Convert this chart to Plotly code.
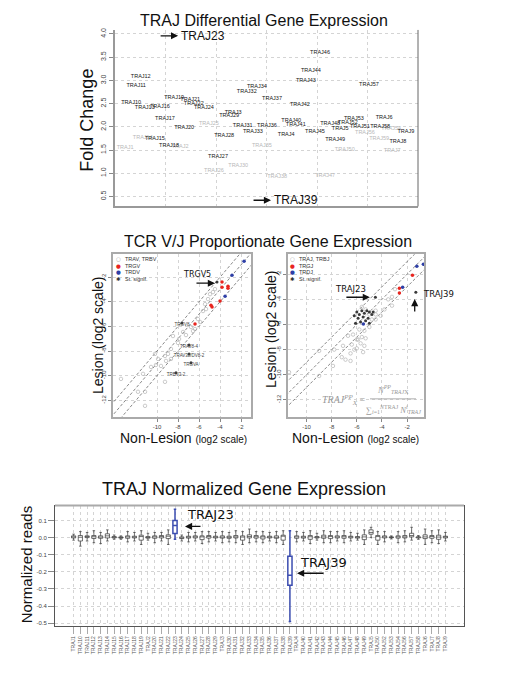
import plotly.graph_objects as go

W, H = 520, 680
def PX(x): return x / W
def PY(y): return 1 - y / H

FONT = "Liberation Sans, Arial, sans-serif"
DJV = "DejaVu Sans, sans-serif"

# ---------------- Top chart: TRAJ differential expression ----------------
top_sig_names = ["TRAJ46", "TRAJ44", "TRAJ43", "TRAJ57", "TRAJ12", "TRAJ11", "TRAJ34", "TRAJ32",
                 "TRAJ37", "TRAJ42", "TRAJ19", "TRAJ21", "TRAJ10", "TRAJ22", "TRAJ24", "TRAJ13",
                 "TRAJ16", "TRAJ3", "TRAJ29", "TRAJ17", "TRAJ20", "TRAJ31", "TRAJ36", "TRAJ33",
                 "TRAJ40", "TRAJ41", "TRAJ4", "TRAJ28", "TRAJ45", "TRAJ48", "TRAJ53", "TRAJ52",
                 "TRAJ5", "TRAJ51", "TRAJ58", "TRAJ6", "TRAJ9", "TRAJ15", "TRAJ18", "TRAJ49",
                 "TRAJ8", "TRAJ27"]
top_sig_x = [40.6, 38.8, 37.8, 50.3, 5.1, 4.2, 28.1, 26.1,
             31.1, 36.6, 11.7, 14.9, 3.2, 15.6, 17.6, 5.9,
             8.9, 23.4, 22.6, 9.9, 13.7, 25.3, 30.1, 27.3,
             34.9, 35.8, 33.9, 21.6, 39.6, 42.6, 47.3, 46.1,
             44.6, 48.5, 52.5, 53.3, 57.6, 7.9, 10.7, 43.6,
             56.0, 20.4]
top_sig_fc = [3.59, 3.21, 2.99, 2.91, 3.08, 2.88, 2.86, 2.76,
              2.61, 2.48, 2.63, 2.58, 2.52, 2.50, 2.41, 2.41,
              2.43, 2.30, 2.24, 2.18, 1.98, 2.03, 2.03, 1.90,
              2.13, 2.05, 1.83, 1.81, 1.90, 2.07, 2.18, 2.09,
              1.96, 2.00, 2.00, 2.20, 1.90, 1.75, 1.60, 1.73,
              1.68, 1.36]
top_ns_names = ["TRAJ25", "TRAJ14", "TRAJ1", "TRAJ2", "TRAJ35", "TRAJ56", "TRAJ54",
                "TRAJ59", "TRAJ50", "TRAJ7", "TRAJ47", "TRAJ30", "TRAJ26", "TRAJ38"]
top_ns_x = [18.6, 5.5, 2.0, 12.9, 29.1, 49.5, 54.7, 52.3, 45.5, 54.9, 41.6, 24.4, 19.6, 32.1]
top_ns_fc = [2.07, 1.77, 1.55, 1.58, 1.60, 1.88, 1.96, 1.75, 1.51, 1.49, 0.95, 1.17, 1.06, 0.93]
top_out_names = ["TRAJ23", "TRAJ39"]
top_out_x = [12.5, 30.9]
top_out_fc = [3.96, 0.42]

# ---------------- Middle left: V genes ----------------
v_other_x = [-10.10, -9.62, -9.24, -8.48, -7.52, -6.76, -6.10, -5.62, -5.43, -5.14, -4.95,
             -5.90, -6.38, -7.24, -8.00, -8.67, -8.95, -9.90, -10.57, -11.33, -13.43, -4.67,
             -4.48, -5.33, -6.57, -7.90, -9.14, -11.81, -11.14, -9.24, -11.14, -10.19, -8.67]
v_other_y = [-9.13, -9.21, -8.40, -6.78, -6.45, -6.05, -5.40, -4.75, -4.19, -3.78, -3.38,
             -5.64, -6.21, -6.70, -7.34, -7.83, -8.23, -8.64, -9.29, -9.85, -10.26, -3.21,
             -2.97, -4.59, -6.37, -7.02, -8.80, -11.31, -11.31, -10.5, -12.45, -8.23, -8.64]
v_trgv_x = [-3.81, -3.24, -3.81, -3.24, -4.00, -4.86, -4.76, -6.38]
v_trgv_y = [-2.40, -2.73, -2.81, -2.89, -3.94, -4.27, -4.43, -5.81]
v_trdv_x = [-1.71, -2.86, -3.52]
v_trdv_y = [-0.70, -1.84, -3.54]
v_sig_names = ["", "TRGV8", "TRAV8-4", "TRAV38/DV8-2", "TRGVA", "TRBV3-2"]
v_sig_x = [-4.29, -7.62, -6.95, -6.95, -6.76, -8.19]
v_sig_y = [-2.40, -5.72, -7.51, -8.23, -8.96, -9.77]

# ---------------- Middle right: J genes ----------------
j_other_x = [-2.96, -3.2, -3.5, -3.8, -4.1, -4.5, -4.8, -5.0, -5.4, -5.6, -5.8, -6.0, -6.3,
             -6.4, -6.7, -7.1, -7.8, -9.0, -11.4, -9.0, -5.6, -5.3, -5.0, -4.5, -5.9, -5.7,
             -5.4, -6.2, -6.5, -6.9, -6.5, -7.2, -5.5, -5.3, -6.0, -3.2, -4.5, -7.9]
j_other_y = [-3.19, -4.5, -4.0, -4.8, -5.3, -4.9, -5.6, -6.2, -6.5, -7.0, -6.4, -7.2, -6.8,
             -7.6, -6.9, -7.7, -8.0, -8.1, -9.8, -10.1, -4.6, -4.8, -5.2, -5.6, -7.2, -7.5,
             -7.7, -8.0, -8.3, -8.8, -8.9, -8.6, -8.2, -7.1, -7.9, -3.8, -5.2, -9.3]
j_trgj_x = [-0.78, -1.57, -2.61, -2.61]
j_trgj_y = [-0.25, -2.08, -3.11, -3.50]
j_trdj_x = [-0.70, -1.22, -2.35, -5.48]
j_trdj_y = [-1.21, -1.37, -3.03, -5.97]
j_sig_x = [-4.52, -1.30, -6.0, -5.8, -5.6, -5.4, -5.2, -5.0, -4.8, -5.9, -5.5, -5.1,
           -6.2, -5.7, -5.3, -6.1, -4.7, -5.0]
j_sig_y = [-3.83, -3.43, -5.0, -5.2, -4.9, -5.1, -4.9, -5.0, -5.2, -5.5, -5.4, -5.5,
           -5.3, -5.8, -5.7, -5.9, -5.0, -5.9]

# ---------------- Bottom: normalized expression boxes ----------------
box_genes = ["TRAJ1", "TRAJ10", "TRAJ11", "TRAJ12", "TRAJ13", "TRAJ14", "TRAJ15", "TRAJ16",
             "TRAJ17", "TRAJ18", "TRAJ19", "TRAJ2", "TRAJ20", "TRAJ21", "TRAJ22", "TRAJ23",
             "TRAJ24", "TRAJ25", "TRAJ26", "TRAJ27", "TRAJ28", "TRAJ29", "TRAJ3", "TRAJ30",
             "TRAJ31", "TRAJ32", "TRAJ33", "TRAJ34", "TRAJ35", "TRAJ36", "TRAJ37", "TRAJ38",
             "TRAJ39", "TRAJ4", "TRAJ40", "TRAJ41", "TRAJ42", "TRAJ43", "TRAJ44", "TRAJ45",
             "TRAJ46", "TRAJ47", "TRAJ48", "TRAJ49", "TRAJ5", "TRAJ50", "TRAJ52", "TRAJ53",
             "TRAJ54", "TRAJ56", "TRAJ57", "TRAJ58", "TRAJ6", "TRAJ7", "TRAJ8", "TRAJ9"]
box_med = [0.004, 0.002, 0.006, 0.005, 0.003, 0.010, 0.002, 0.000, 0.004, 0.003, 0.006, 0.001,
           0.004, 0.006, 0.008, 0.070, -0.002, 0.003, 0.005, 0.004, 0.006, 0.003, 0.002, 0.000,
           0.004, 0.003, 0.006, 0.005, 0.004, 0.003, 0.002, 0.008, -0.220, 0.004, 0.003, 0.005,
           0.002, 0.004, 0.006, 0.003, 0.005, 0.004, 0.002, 0.004, 0.030, 0.006, 0.004, 0.002,
           0.005, 0.004, 0.012, 0.003, 0.004, 0.006, 0.003, 0.004]
box_q1 = [-0.002, -0.020, 0.000, -0.005, -0.004, -0.002, -0.002, -0.003, -0.004, -0.002, -0.015,
          -0.003, -0.004, -0.002, -0.006, 0.024, -0.006, -0.003, -0.002, -0.012, -0.003, -0.002,
          -0.003, -0.004, -0.002, -0.015, -0.002, -0.003, -0.008, -0.002, -0.004, -0.015, -0.278,
          -0.004, -0.003, -0.010, -0.002, -0.004, -0.006, -0.002, -0.004, -0.002, -0.003, -0.012,
          0.020, -0.015, -0.002, -0.001, -0.003, -0.002, 0.004, -0.002, -0.006, -0.004, -0.010,
          -0.002]
box_q3 = [0.010, 0.012, 0.010, 0.012, 0.010, 0.022, 0.006, 0.004, 0.010, 0.008, 0.014, 0.006,
          0.010, 0.012, 0.016, 0.100, 0.004, 0.008, 0.010, 0.010, 0.012, 0.008, 0.010, 0.008,
          0.012, 0.010, 0.016, 0.012, 0.010, 0.008, 0.010, 0.014, -0.109, 0.010, 0.008, 0.012,
          0.006, 0.014, 0.012, 0.010, 0.012, 0.008, 0.006, 0.016, 0.045, 0.012, 0.010, 0.004,
          0.010, 0.012, 0.025, 0.004, 0.016, 0.012, 0.014, 0.008]
box_lo = [-0.015, -0.050, -0.020, -0.030, -0.035, -0.020, -0.010, -0.010, -0.025, -0.020, -0.040,
          -0.015, -0.030, -0.020, -0.040, -0.010, -0.020, -0.025, -0.020, -0.035, -0.025, -0.020,
          -0.030, -0.025, -0.030, -0.040, -0.030, -0.025, -0.030, -0.020, -0.030, -0.040, -0.490,
          -0.025, -0.020, -0.035, -0.015, -0.030, -0.030, -0.020, -0.030, -0.020, -0.015, -0.040,
          0.000, -0.040, -0.025, -0.008, -0.030, -0.025, -0.015, -0.010, -0.040, -0.030, -0.035,
          -0.020]
box_hi = [0.020, 0.035, 0.030, 0.040, 0.030, 0.045, 0.015, 0.010, 0.035, 0.030, 0.040, 0.025,
          0.030, 0.030, 0.045, 0.165, 0.015, 0.030, 0.030, 0.035, 0.035, 0.030, 0.035, 0.030,
          0.040, 0.035, 0.050, 0.035, 0.035, 0.030, 0.035, 0.040, 0.040, 0.035, 0.030, 0.040,
          0.025, 0.040, 0.035, 0.035, 0.040, 0.030, 0.025, 0.045, 0.060, 0.035, 0.035, 0.010,
          0.035, 0.040, 0.060, 0.012, 0.050, 0.040, 0.045, 0.030]
box_highlight = ["TRAJ23", "TRAJ39"]

# ---------------- axis ranges ----------------
TOP_XR = [0, 60]
TOP_YR = [0.287, 4.086]
VL_XR = [-14.19, -1.05]
VL_YR = [-13.34, -0.14]
JR_XR = [-11.48, -0.65]
JR_YR = [-13.35, -0.41]
BOX_XR = [-2.75, 57.75]
BOX_YR = [-0.517, 0.187]
VL_DIAG = [0, 1, 2]
JR_DIAG = [-1, 0, 1]

GRAY_OPEN = "#b5b5b5"
RED = "#e8251f"
BLUE = "#2e3fa6"
SIGC = "#3a3a3a"
BLUEBOX = "#3b4db0"

fig = go.Figure()

# top chart labels
fig.add_trace(go.Scatter(x=top_ns_x, y=top_ns_fc, text=top_ns_names, mode="text",
                         textfont=dict(size=5.5, color="#b8b8b8", family=FONT),
                         xaxis="x", yaxis="y", cliponaxis=False, hoverinfo="skip", showlegend=False))
fig.add_trace(go.Scatter(x=top_sig_x, y=top_sig_fc, text=top_sig_names, mode="text",
                         textfont=dict(size=5.5, color="#151515", family=FONT),
                         xaxis="x", yaxis="y", cliponaxis=False, hoverinfo="skip", showlegend=False))

# diagonals
for xa, ya, xr, offs in [("x2", "y2", VL_XR, VL_DIAG), ("x3", "y3", JR_XR, JR_DIAG)]:
    for c in offs:
        xs = [xr[0] - 3, xr[1] + 3]
        fig.add_trace(go.Scatter(x=xs, y=[v + c for v in xs], mode="lines",
                                 line=dict(color="#555", width=0.7, dash="3px,2px"),
                                 xaxis=xa, yaxis=ya, hoverinfo="skip", showlegend=False))

def pts(x, y, xa, ya, color, open_=False, size=3.5):
    if open_:
        m = dict(size=size, symbol="circle-open", color=color, line=dict(width=0.7, color=color))
    else:
        m = dict(size=size, symbol="circle", color=color)
    return go.Scatter(x=x, y=y, mode="markers", marker=m, xaxis=xa, yaxis=ya,
                      hoverinfo="skip", showlegend=False)

fig.add_trace(pts(v_other_x, v_other_y, "x2", "y2", GRAY_OPEN, True))
fig.add_trace(pts(v_trgv_x, v_trgv_y, "x2", "y2", RED))
fig.add_trace(pts(v_trdv_x, v_trdv_y, "x2", "y2", BLUE))
fig.add_trace(pts(v_sig_x, v_sig_y, "x2", "y2", SIGC, size=3))
fig.add_trace(go.Scatter(x=v_sig_x, y=v_sig_y, text=v_sig_names, mode="text", textposition="bottom center",
                         textfont=dict(size=4.5, color="#444", family=FONT), xaxis="x2", yaxis="y2",
                         hoverinfo="skip", showlegend=False))

fig.add_trace(pts(j_other_x, j_other_y, "x3", "y3", GRAY_OPEN, True))
fig.add_trace(pts(j_trgj_x, j_trgj_y, "x3", "y3", RED))
fig.add_trace(pts(j_trdj_x, j_trdj_y, "x3", "y3", BLUE))
fig.add_trace(pts(j_sig_x, j_sig_y, "x3", "y3", SIGC, size=3))

# boxes
norm_idx = [i for i, g in enumerate(box_genes) if g not in box_highlight]
hi_idx = [i for i, g in enumerate(box_genes) if g in box_highlight]
for idx, col, lw in [(norm_idx, "#333", 0.7), (hi_idx, BLUEBOX, 1.5)]:
    fig.add_trace(go.Box(
        x=[box_genes[i] for i in idx],
        q1=[box_q1[i] for i in idx], median=[box_med[i] for i in idx],
        q3=[box_q3[i] for i in idx], lowerfence=[box_lo[i] for i in idx],
        upperfence=[box_hi[i] for i in idx],
        xaxis="x4", yaxis="y4", line=dict(color=col, width=lw), fillcolor="white",
        width=0.62, whiskerwidth=0.6, hoverinfo="skip", showlegend=False))

grid = dict(showgrid=True, gridcolor="#d4d4d4", griddash="dot", gridwidth=0.8, zeroline=False)

layout = dict(
    width=W, height=H, margin=dict(l=0, r=0, t=0, b=0),
    paper_bgcolor="white", plot_bgcolor="white", showlegend=False, boxmode="overlay",
    xaxis=dict(domain=[PX(107), PX(410)], range=TOP_XR, anchor="y", dtick=10, tick0=0,
               showticklabels=False, ticks="", showline=True, linecolor="#999", linewidth=2, **grid),
    yaxis=dict(domain=[PY(197), PY(20)], range=TOP_YR, anchor="x",
               tickvals=[0.5, 1.0, 1.5, 2.0, 2.5, 3.0, 3.5, 4.0],
               ticktext=["0.5", "1.0", "1.5", "2.0", "2.5", "3.0", "3.5", "4.0"],
               tickangle=-90, ticks="outside", ticklen=4, tickcolor="#888",
               tickfont=dict(size=7, color="#444", family=FONT),
               showline=True, linecolor="#999", linewidth=2, **grid),
    xaxis2=dict(domain=[PX(105), PX(243)], range=VL_XR, anchor="y2",
                tickvals=[-10, -8, -6, -4, -2], ticktext=["-10", "-8", "-6", "-4", "-2"],
                ticks="outside", ticklen=3, tickcolor="#888", tickfont=dict(size=6, color="#444", family=FONT),
                showline=True, mirror=True, linecolor="#aaa", linewidth=1.5, **grid),
    yaxis2=dict(domain=[PY(408), PY(245)], range=VL_YR, anchor="x2",
                tickvals=[-12, -10, -8, -6, -4, -2], ticktext=["-12", "-10", "-8", "-6", "-4", "-2"],
                tickangle=-90, ticks="outside", ticklen=3, tickcolor="#888",
                tickfont=dict(size=6, color="#444", family=FONT),
                showline=True, mirror=True, linecolor="#aaa", linewidth=1.5, **grid),
    xaxis3=dict(domain=[PX(280), PX(416)], range=JR_XR, anchor="y3",
                tickvals=[-10, -8, -6, -4, -2], ticktext=["-10", "-8", "-6", "-4", "-2"],
                ticks="outside", ticklen=3, tickcolor="#888", tickfont=dict(size=6, color="#444", family=FONT),
                showline=True, mirror=True, linecolor="#aaa", linewidth=1.5, **grid),
    yaxis3=dict(domain=[PY(408), PY(245)], range=JR_YR, anchor="x3",
                tickvals=[-12, -10, -8, -6, -4, -2], ticktext=["-12", "-10", "-8", "-6", "-4", "-2"],
                tickangle=-90, ticks="outside", ticklen=3, tickcolor="#888",
                tickfont=dict(size=6, color="#444", family=FONT),
                showline=True, mirror=True, linecolor="#aaa", linewidth=1.5, **grid),
    xaxis4=dict(domain=[PX(47), PX(456)], range=BOX_XR, anchor="y4", type="category",
                categoryorder="array", categoryarray=box_genes, tickangle=-90,
                ticks="outside", ticklen=7, tickcolor="#aaa", tickwidth=1.2,
                tickfont=dict(size=5, color="#555", family=FONT),
                showline=True, mirror=True, linecolor="#555", linewidth=1, **grid),
    yaxis4=dict(domain=[PY(618), PY(497)], range=BOX_YR, anchor="x4",
                tickvals=[-0.5, -0.4, -0.3, -0.2, -0.1, 0.0, 0.1],
                ticktext=["-0.5", "-0.4", "-0.3", "-0.2", "-0.1", "0.0", "0.1"],
                ticks="outside", ticklen=6, tickcolor="#888",
                tickfont=dict(size=6, color="#444", family=FONT),
                showline=True, mirror=True, linecolor="#555", linewidth=1, **grid),
)

annotations = []
def ann(text, x, y, size, color="#111", family=FONT, angle=0, xanchor="center", yanchor="middle",
        xref="paper", yref="paper"):
    annotations.append(dict(text=text, x=x, y=y, xref=xref, yref=yref, showarrow=False,
                            font=dict(size=size, color=color, family=family), textangle=angle,
                            xanchor=xanchor, yanchor=yanchor))

def arrow(x, y, xref, yref, ax, ay):
    annotations.append(dict(text="", x=x, y=y, xref=xref, yref=yref, showarrow=True, ax=ax, ay=ay,
                            arrowhead=2, arrowsize=1.1, arrowwidth=1.3, arrowcolor="#111", standoff=0))

# titles
ann("TRAJ Differential Gene Expression", PX(256), PY(11), 16)
ann("TCR V/J Proportionate Gene Expression", PX(260), PY(232), 16)
ann("TRAJ Normalized Gene Expression", PX(236), PY(480), 18)
# axis titles
ann("Fold Change", PX(79), PY(111), 18, angle=-90)
ann("Lesion (log2 scale)", PX(90), PY(326), 14, angle=-90)
ann("Lesion (log2 scale)", PX(263), PY(320), 14, angle=-90)
ann("Non-Lesion <span style='font-size:10px'>(log2 scale)</span>", PX(175), PY(429), 14)
ann("Non-Lesion <span style='font-size:10px'>(log2 scale)</span>", PX(347), PY(429), 14)
ann("Normalized reads", PX(18), PY(556), 15, angle=-90)

# top chart outliers
for name, xv, yv in zip(top_out_names, top_out_x, top_out_fc):
    arrow(xv, yv, "x", "y", -19, 0)
    ann(name, xv + 0.2, yv, 12, xanchor="left", xref="x", yref="y")

# scatter arrows
arrow(-4.48, -2.49, "x2", "y2", -20, 0)
ann("TRGV5", -6.19, -1.76, 8, family=DJV, xref="x2", yref="y2")
arrow(-4.96, -3.83, "x3", "y3", -25, 0)
ann("TRAJ23", -6.52, -3.19, 8.5, family=DJV, xref="x3", yref="y3")
arrow(-1.39, -3.98, "x3", "y3", 0, 14)
ann("TRAJ39", -0.87, -3.59, 8.5, family=DJV, xanchor="left", xref="x3", yref="y3")

# box arrows
arrow(16.48, 0.065, "x4", "y4", 17, 0)
ann("TRAJ23", 16.48, 0.135, 13, family=DJV, xanchor="left", xref="x4", yref="y4")
arrow(33.05, -0.208, "x4", "y4", 28, 0)
ann("TRAJ39", 33.2, -0.144, 13, family=DJV, xanchor="left", xref="x4", yref="y4")

# legends
leg_rows = [250, 256.5, 263, 269.5]
for x0, labels in [(110, ["TRAV, TRBV", "TRGV", "TRDV", "St. signif."]),
                   (284, ["TRAJ, TRBJ", "TRGJ", "TRDJ", "St. signif."])]:
    syms = [("○", "#aaa"), ("●", RED), ("●", BLUE), ("✱", "#333")]
    for (s, c), lab, yy in zip(syms, labels, leg_rows):
        ann(s, PX(x0), PY(yy), 5.5, color=c, family=DJV)
        ann(lab, PX(x0 + 5), PY(yy), 5.5, color="#333", xanchor="left")

# formula
FCOL = "#999"
SERIF = "Liberation Serif, serif"
ann("<i>TRAJ</i><sup><i>PP</i></sup><sub><i>X</i></sub> =", PX(336), PY(391), 10, color=FCOL, family=SERIF)
ann("<i>N</i><sup><i>PP</i></sup><sub><i>TRAJ</i>X</sub>", PX(385), PY(381), 8.5, color=FCOL, family=SERIF)
ann("∑<sub><i>i</i>=1</sub><sup><i>N</i>TRAJ</sup> <i>N</i><sup><i>i</i></sup><sub><i>TRAJ</i></sub>",
    PX(385), PY(401), 8.5, color=FCOL, family=SERIF)

layout["annotations"] = annotations
layout["shapes"] = [
    dict(type="line", xref="paper", yref="paper", x0=PX(362), x1=PX(408), y0=PY(390), y1=PY(390),
         line=dict(color=FCOL, width=0.8)),
    dict(type="line", xref="paper", yref="paper", x0=PX(410), x1=PX(410), y0=PY(197), y1=PY(20),
         line=dict(color="#666", width=1)),
    dict(type="line", xref="paper", yref="paper", x0=PX(47), x1=PX(456), y0=PY(497), y1=PY(497),
         line=dict(color="#aaa", width=2)),
]

fig.update_layout(**layout)
fig.write_html("out.html")
